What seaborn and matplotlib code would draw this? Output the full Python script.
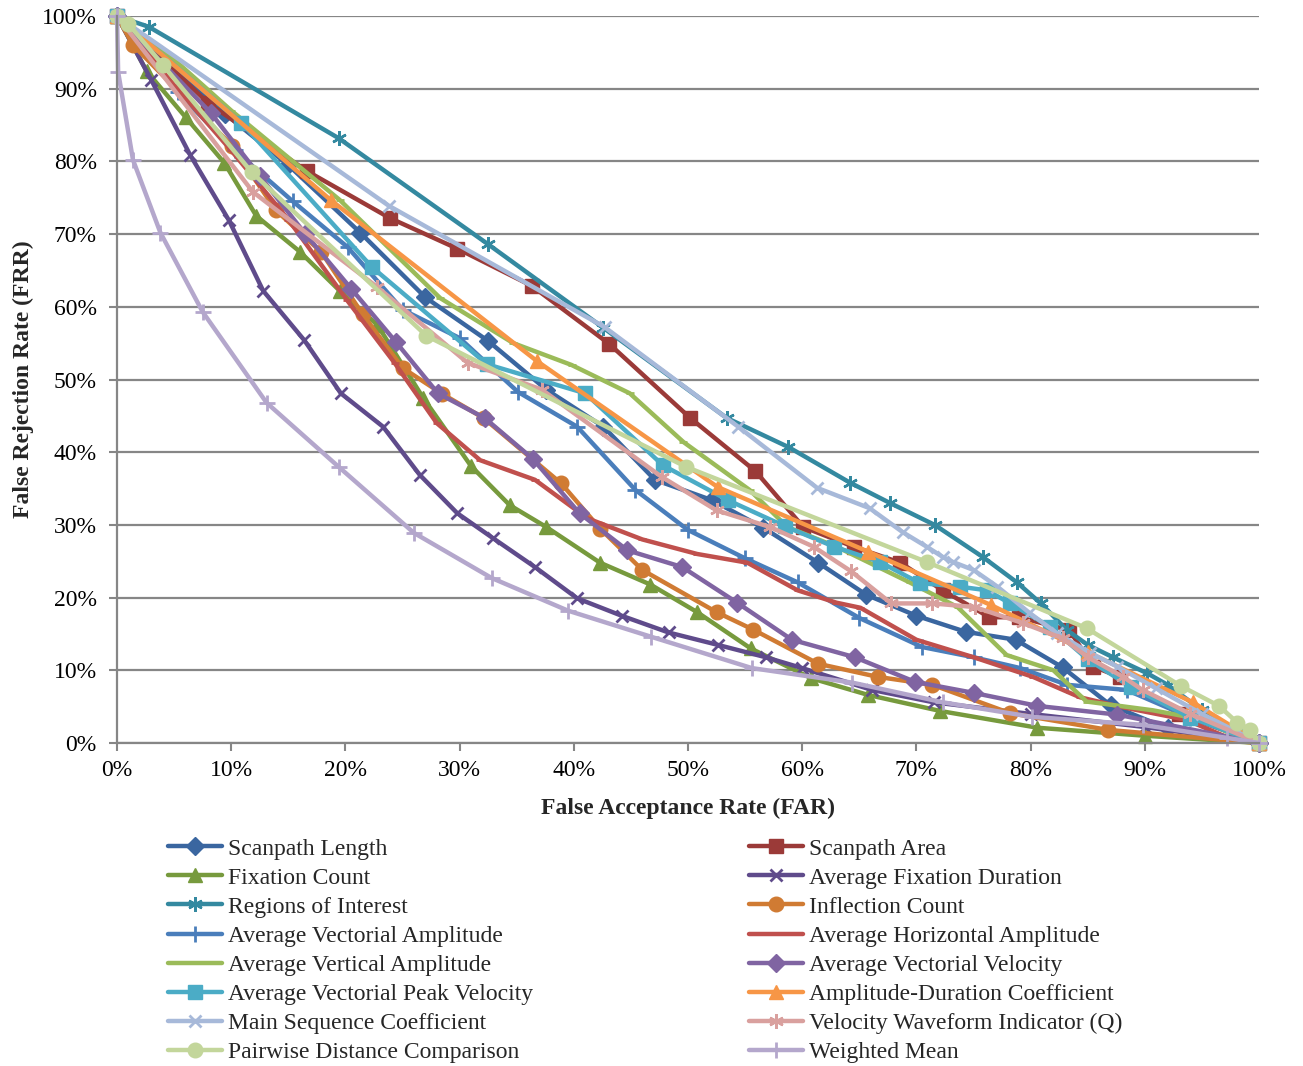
import matplotlib
matplotlib.use("Agg")
import matplotlib.pyplot as plt
import seaborn as sns

# ---------------- data (percent) ----------------
series_names = [
    "Scanpath Length", "Scanpath Area", "Fixation Count", "Average Fixation Duration",
    "Regions of Interest", "Inflection Count", "Average Vectorial Amplitude",
    "Average Horizontal Amplitude", "Average Vertical Amplitude", "Average Vectorial Velocity",
    "Average Vectorial Peak Velocity", "Amplitude-Duration Coefficient",
    "Main Sequence Coefficient", "Velocity Waveform Indicator (Q)",
    "Pairwise Distance Comparison", "Weighted Mean",
]

far_scanpath_length = [0, 4.5, 9.5, 15.0, 21.3, 27.0, 32.5, 37.6, 42.6, 47.1, 52.1, 56.6, 61.4, 65.6, 70.0, 74.3, 78.7, 82.8, 87.0, 92.0, 100]
frr_scanpath_length = [100, 93.5, 86.5, 79.5, 70.2, 61.3, 55.3, 48.6, 43.5, 36.2, 33.4, 29.6, 24.8, 20.4, 17.5, 15.3, 14.2, 10.4, 5.2, 2.0, 0]

far_scanpath_area = [0, 8.0, 16.6, 23.9, 29.8, 36.3, 43.1, 50.2, 55.9, 60.1, 64.5, 68.6, 72.3, 76.4, 79.0, 83.4, 85.5, 87.8, 93.0, 100]
frr_scanpath_area = [100, 88.0, 78.7, 72.2, 68.0, 62.9, 54.9, 44.7, 37.4, 29.7, 27.0, 24.8, 21.0, 17.3, 17.3, 15.5, 10.5, 9.1, 4.0, 0]

far_fixation_count = [0, 2.6, 6.0, 9.4, 12.2, 16.0, 19.5, 22.8, 26.8, 31.0, 34.4, 37.6, 42.3, 46.7, 50.8, 55.5, 60.8, 65.8, 72.1, 80.6, 90.0, 100]
frr_fixation_count = [100, 92.4, 86.1, 79.8, 72.5, 67.6, 62.2, 57.5, 47.5, 38.1, 32.7, 29.7, 24.8, 21.8, 18.0, 13.0, 8.9, 6.6, 4.4, 2.1, 1.0, 0]

far_avg_fixation_duration = [0, 3.0, 6.4, 9.8, 12.8, 16.4, 19.6, 23.3, 26.5, 29.8, 32.9, 36.6, 40.3, 44.2, 48.3, 52.6, 56.8, 60.0, 66.1, 71.5, 80.0, 90.0, 100]
frr_avg_fixation_duration = [100, 91.2, 80.9, 71.9, 62.2, 55.4, 48.1, 43.5, 36.9, 31.6, 28.2, 24.2, 19.9, 17.5, 15.2, 13.5, 11.8, 10.3, 7.3, 5.6, 4.0, 2.2, 0]

far_regions_of_interest = [0, 2.8, 19.4, 32.5, 42.6, 53.4, 58.8, 64.2, 67.7, 71.6, 75.8, 78.8, 80.9, 83.2, 85.0, 87.2, 90.2, 92.0, 95.0, 98.0, 100]
frr_regions_of_interest = [100, 98.5, 83.2, 68.6, 57.1, 44.7, 40.7, 35.8, 33.0, 30.0, 25.6, 22.1, 19.2, 15.5, 13.5, 11.8, 9.6, 8.0, 4.5, 1.5, 0]

far_inflection_count = [0, 1.4, 10.1, 13.9, 17.9, 21.5, 25.0, 28.5, 32.1, 38.9, 42.3, 46.0, 52.5, 55.7, 61.4, 66.6, 71.4, 78.2, 86.8, 100]
frr_inflection_count = [100, 96.0, 82.1, 73.3, 67.5, 59.0, 51.6, 48.0, 44.7, 35.7, 29.5, 23.8, 18.0, 15.6, 10.9, 9.1, 8.0, 4.1, 1.8, 0]

far_avg_vectorial_amplitude = [0, 5.3, 10.3, 15.4, 20.2, 25.0, 30.0, 35.1, 40.3, 45.4, 50.0, 55.0, 59.6, 65.0, 70.5, 75.0, 79.1, 83.2, 88.4, 94.0, 100]
frr_avg_vectorial_amplitude = [100, 89.5, 81.5, 74.5, 68.2, 59.6, 55.7, 48.3, 43.5, 34.8, 29.3, 25.4, 22.1, 17.2, 13.2, 11.8, 10.3, 8.0, 7.3, 3.5, 0]

far_avg_horizontal_amplitude = [0, 5.0, 10.0, 15.0, 20.1, 24.3, 28.0, 31.8, 36.6, 41.2, 46.0, 50.8, 55.2, 59.6, 63.0, 65.1, 70.0, 75.0, 80.2, 84.3, 87.8, 93.6, 97.2, 100]
frr_avg_horizontal_amplitude = [100, 90.5, 81.5, 72.0, 61.0, 52.3, 44.0, 38.9, 36.2, 30.9, 28.0, 26.0, 24.8, 21.0, 19.3, 18.6, 14.2, 11.8, 9.1, 6.3, 5.0, 3.2, 0.8, 0]

far_avg_vertical_amplitude = [0, 5.0, 10.0, 19.5, 28.3, 34.7, 39.8, 44.9, 49.6, 55.4, 58.7, 63.0, 69.4, 73.6, 77.9, 82.0, 84.9, 90.7, 95.1, 98.1, 100]
frr_avg_vertical_amplitude = [100, 94.0, 87.0, 74.7, 61.2, 55.0, 52.0, 48.1, 41.4, 34.8, 29.7, 27.0, 22.1, 18.7, 12.1, 10.0, 5.7, 4.5, 3.2, 0.8, 0]

far_avg_vectorial_velocity = [0, 8.2, 12.5, 16.5, 20.5, 24.4, 28.1, 32.2, 36.4, 40.5, 44.7, 49.5, 54.3, 59.1, 64.6, 69.9, 75.0, 80.6, 87.6, 100]
frr_avg_vectorial_velocity = [100, 86.7, 78.0, 70.0, 62.5, 55.2, 48.1, 44.7, 39.1, 31.6, 26.5, 24.2, 19.3, 14.2, 11.8, 8.4, 6.9, 5.1, 3.9, 0]

far_avg_vectorial_peak_velocity = [0, 10.9, 22.3, 32.4, 41.0, 47.8, 53.5, 58.5, 62.8, 66.8, 70.3, 73.8, 76.2, 78.2, 81.7, 85.0, 88.8, 94.0, 100]
frr_avg_vectorial_peak_velocity = [100, 85.3, 65.5, 52.1, 48.1, 38.2, 33.4, 29.8, 27.0, 24.9, 22.0, 21.5, 21.0, 19.2, 16.0, 11.5, 7.7, 3.5, 0]

far_amplitude_duration = [0, 18.7, 36.8, 52.6, 65.8, 76.5, 85.0, 94.2, 100]
frr_amplitude_duration = [100, 74.7, 52.5, 35.2, 26.3, 19.0, 12.5, 5.6, 0]

far_main_sequence = [0, 23.8, 42.7, 54.4, 61.3, 65.9, 68.8, 70.9, 72.3, 73.2, 75.0, 77.1, 79.9, 82.3, 85.2, 87.6, 91.0, 95.0, 100]
frr_main_sequence = [100, 73.9, 57.2, 43.5, 35.1, 32.3, 29.0, 27.0, 25.6, 24.9, 23.8, 21.5, 17.9, 15.1, 12.4, 10.5, 7.5, 4.0, 0]

far_velocity_waveform = [0, 11.9, 22.8, 30.7, 37.2, 47.7, 52.5, 57.2, 61.0, 64.3, 67.8, 71.4, 75.1, 79.3, 82.8, 85.0, 88.1, 89.8, 94.0, 100]
frr_velocity_waveform = [100, 75.8, 62.7, 52.3, 48.6, 36.6, 32.0, 29.7, 27.0, 23.6, 19.2, 19.2, 18.7, 16.5, 14.4, 11.8, 9.1, 7.3, 4.0, 0]

far_pairwise_distance = [0, 1.0, 4.0, 11.8, 27.1, 49.8, 70.9, 84.9, 93.2, 96.5, 98.1, 99.2, 100]
frr_pairwise_distance = [100, 98.9, 93.3, 78.5, 56.0, 38.0, 24.9, 15.8, 7.8, 5.1, 2.8, 1.8, 0]

far_weighted_mean = [0, 0.1, 1.4, 3.8, 7.5, 13.1, 19.4, 26.0, 32.8, 39.5, 46.8, 55.6, 64.4, 72.3, 80.1, 89.8, 97.2, 100]
frr_weighted_mean = [100, 92.3, 80.2, 70.2, 59.3, 46.8, 38.0, 28.9, 22.7, 18.2, 14.6, 10.3, 8.3, 5.6, 3.6, 2.5, 0.7, 0]

tick_values = [0, 10, 20, 30, 40, 50, 60, 70, 80, 90, 100]
tick_labels = [f"{v}%" for v in tick_values]

far_all = [far_scanpath_length, far_scanpath_area, far_fixation_count, far_avg_fixation_duration,
           far_regions_of_interest, far_inflection_count, far_avg_vectorial_amplitude,
           far_avg_horizontal_amplitude, far_avg_vertical_amplitude, far_avg_vectorial_velocity,
           far_avg_vectorial_peak_velocity, far_amplitude_duration, far_main_sequence,
           far_velocity_waveform, far_pairwise_distance, far_weighted_mean]
frr_all = [frr_scanpath_length, frr_scanpath_area, frr_fixation_count, frr_avg_fixation_duration,
           frr_regions_of_interest, frr_inflection_count, frr_avg_vectorial_amplitude,
           frr_avg_horizontal_amplitude, frr_avg_vertical_amplitude, frr_avg_vectorial_velocity,
           frr_avg_vectorial_peak_velocity, frr_amplitude_duration, frr_main_sequence,
           frr_velocity_waveform, frr_pairwise_distance, frr_weighted_mean]

# ---------------- styles ----------------
colors = ["#3A66A0", "#9B3A38", "#779A3D", "#5F4B8B", "#3489A0", "#D07B33",
          "#4A7EBB", "#C0504D", "#9BBB59", "#8064A2", "#4BACC6", "#F79646",
          "#A7B9D9", "#D9A09E", "#C3D69B", "#B4A7CC"]
asterisk = (6, 2, 0)
markers = ["D", "s", "^", "x", asterisk, "o", "+", "_", "_", "D", "s", "^", "x", asterisk, "o", "+"]
msizes = {"D": 9.5, "s": 9.5, "^": 10, "x": 9, asterisk: 10.5, "o": 10.5, "+": 11, "_": 6}
mews = {"D": 1, "s": 1, "^": 1, "x": 2, asterisk: 1.8, "o": 1, "+": 2, "_": 2}

sns.set_theme(style="white")
plt.rcParams["font.family"] = ["Liberation Serif", "DejaVu Serif"]

fig = plt.figure(figsize=(13.03, 10.66), dpi=100)
ax = fig.add_axes([117 / 1303, 1 - 743 / 1066, (1259 - 117) / 1303, (743 - 16) / 1066])

grid_c = "#868686"
handles = []
for name, xs, ys, c, m in zip(series_names, far_all, frr_all, colors, markers):
    sns.lineplot(x=xs, y=ys, ax=ax, color=c, linewidth=3.2, marker=m,
                 markersize=msizes[m], markeredgewidth=mews[m],
                 markeredgecolor=c, markerfacecolor=c,
                 sort=False, estimator=None, label=name, clip_on=False)
    handles.append(ax.lines[-1])

if ax.get_legend() is not None:
    ax.get_legend().remove()

ax.set_xlim(0, 100)
ax.set_ylim(0, 100)
ax.set_xticks(tick_values)
ax.set_xticklabels(tick_labels)
ax.set_yticks(tick_values)
ax.set_yticklabels(tick_labels)

ax.set_axisbelow(True)
ax.grid(axis="y", color=grid_c, linewidth=1.6)
ax.grid(axis="x", visible=False)
for side in ["top", "right"]:
    ax.spines[side].set_visible(False)
for side in ["left", "bottom"]:
    ax.spines[side].set_color(grid_c)
    ax.spines[side].set_linewidth(1.6)

ax.tick_params(axis="both", direction="out", length=6, width=1.5, color=grid_c,
               labelsize=17, labelcolor="black")
ax.tick_params(axis="x", pad=6.5, bottom=True)
ax.tick_params(axis="y", pad=8.5, left=True)

ax.set_xlabel("False Acceptance Rate (FAR)", fontsize=17, fontweight="bold", labelpad=12)
ax.set_ylabel("False Rejection Rate (FRR)", fontsize=17, fontweight="bold", labelpad=6)

order = list(range(0, 16, 2)) + list(range(1, 16, 2))
fig.legend([handles[i] for i in order], [series_names[i] for i in order],
           loc="upper left", bbox_to_anchor=(168 / 1303, 1 - 838 / 1066),
           ncol=2, frameon=False, fontsize=17, borderpad=0, borderaxespad=0,
           handlelength=2.29, handletextpad=0.25, columnspacing=9.15,
           labelspacing=0.32)

fig.savefig("out.png", dpi=100)
